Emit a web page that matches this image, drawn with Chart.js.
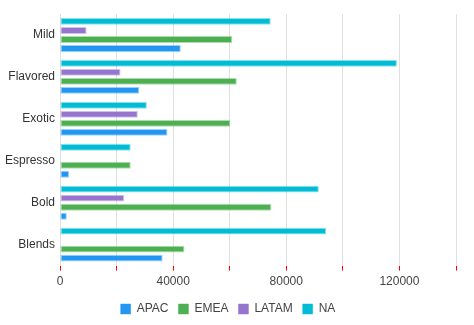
<!DOCTYPE html>
<html lang="en-US">
    <head>
        <meta charset="UTF-8">
        <title>Sales by region</title>
        <script src="https://cdn.jsdelivr.net/npm/chart.js@4/dist/chart.umd.min.js"></script>
        <style>
            html, body { margin: 0; padding: 0; background: #ffffff; }
            #wrap { width: 474px; height: 325px; }
        </style>
    </head>

    <body>
        <div id="wrap"><canvas id="chart_canvas"></canvas></div>
    </body>

    <script>
        // categories, top to bottom
        var categories = ["Mild", "Flavored", "Exotic", "Espresso", "Bold", "Blends"];

        var apac  = [42700, 28000, 38000, 3200, 2400, 36300];
        var emea  = [60900, 62500, 60200, 25000, 74700, 44000];
        var latam = [9400, 21400, 27500, 0, 22700, 0];
        var na    = [74500, 119100, 30700, 25000, 91500, 94100];

        var tick_labels = ["0", "40000", "80000", "120000"];

        function make_set(label, data, color, edge) {
            return {
                label: label,
                data: data,
                backgroundColor: color,
                borderColor: edge,
                borderWidth: 1,
                borderSkipped: false,
                categoryPercentage: 0.86,
                barPercentage: 0.76
            };
        }

        Chart.defaults.font.family = "'Liberation Sans', Arial, sans-serif";
        Chart.defaults.color = "#444";

        // NA is drawn on top of each group, so the datasets go in reverse
        // and the legend is flipped back to APAC .. NA
        window._chart = new Chart(
            document.getElementById("chart_canvas"), {
                type: "bar",
                data: {
                    labels: categories,
                    datasets: [
                        make_set("NA", na, "#00bcd4", "rgba(0,188,212,0.45)"),
                        make_set("LATAM", latam, "#9575cd", "rgba(149,117,205,0.45)"),
                        make_set("EMEA", emea, "#4caf50", "rgba(76,175,80,0.45)"),
                        make_set("APAC", apac, "#2196f3", "rgba(33,150,243,0.45)")
                    ]
                },
                options: {
                    indexAxis: "y",
                    responsive: true,
                    maintainAspectRatio: false,
                    animation: false,
                    layout: { padding: { top: 14, right: 18, left: 0, bottom: 0 } },
                    scales: {
                        x: {
                            min: 0,
                            max: 140000,
                            border: { display: false },
                            grid: {
                                color: "#e0e0e0",
                                tickColor: "#ff0000",
                                tickLength: 5
                            },
                            ticks: {
                                stepSize: 20000,
                                maxRotation: 0,
                                autoSkip: false,
                                color: "#444",
                                font: { size: 12 },
                                padding: 4,
                                callback: function (v) {
                                    var s = String(v);
                                    return tick_labels.indexOf(s) >= 0 ? s : "";
                                }
                            }
                        },
                        y: {
                            border: { display: false },
                            grid: { display: false, drawTicks: false },
                            ticks: { color: "#333", font: { size: 12 }, padding: 5 },
                            afterFit: function (axis) { axis.width = 60; }
                        }
                    },
                    plugins: {
                        legend: {
                            position: "bottom",
                            reverse: true,
                            labels: {
                                boxWidth: 10,
                                boxHeight: 10,
                                padding: 10,
                                color: "#444",
                                font: { size: 12 }
                            }
                        },
                        tooltip: { enabled: false }
                    }
                }
            }
        );
    </script>
</html>
